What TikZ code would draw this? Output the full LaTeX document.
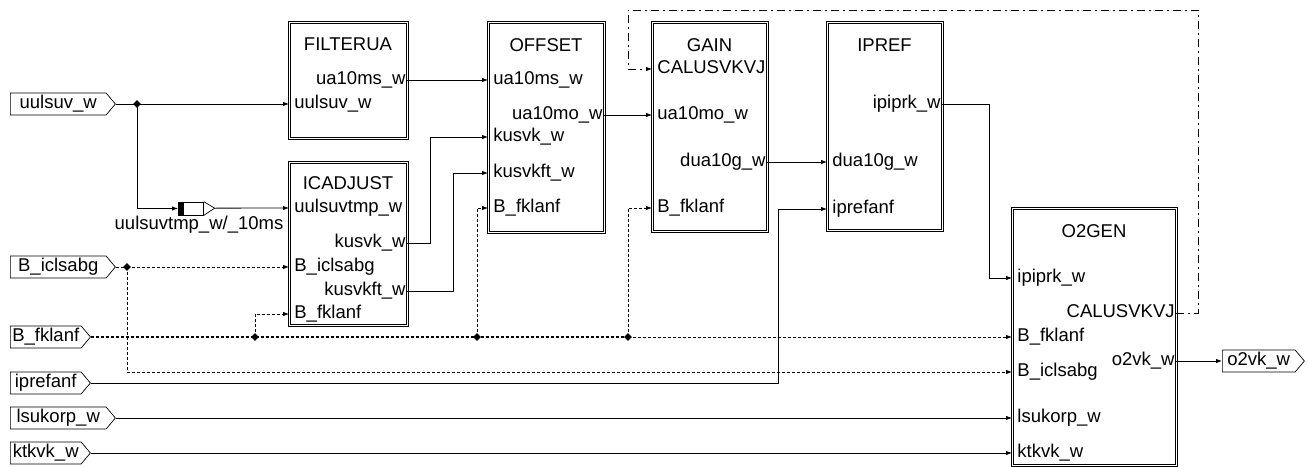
\documentclass[tikz,border=0pt]{standalone}
\usepackage{fontspec}
\setmainfont{Liberation Sans}
\usetikzlibrary{arrows.meta,shapes.symbols,shapes.geometric,calc}
\begin{document}
\begin{tikzpicture}[x=1pt,y=-1pt, font=\fontsize{18.5}{21}\selectfont, line width=0.8pt,
  block/.style={draw=black, double=white, double distance=1.6pt, line width=0.7pt, anchor=north west, inner sep=0},
  txt/.style={inner ysep=0, text height=13.2pt, text depth=3.9pt},
  portL/.style={txt, anchor=west, inner xsep=5pt},
  portR/.style={txt, anchor=east, inner xsep=1pt},
  ttl/.style={txt, anchor=center, inner xsep=0},
  sig/.style={txt, signal, signal to=east, signal pointer angle=100, draw, line width=0.7pt, anchor=west, minimum height=22pt, inner xsep=2pt},
  conn/.style={-{Latex[length=6pt,width=4.5pt]}},
  dotc/.style={conn, dash pattern=on 3pt off 2pt},
  fb/.style={conn, dash pattern=on 8pt off 4pt on 2pt off 4pt},
  jn/.style={diamond, fill=black, draw=none, inner sep=0, minimum size=8pt}]
\useasboundingbox (0,0) rectangle (1309,466);

% inputs
\node[sig, minimum width=105pt] (uulsuv) at (10,104) {uulsuv\_w};
\node[sig, minimum width=105pt] (Bicl) at (10,267) {B\_iclsabg};
\node[sig, minimum width=80pt] (Bfkl) at (10,337) {B\_fklanf};
\node[sig, minimum width=80pt] (ipref) at (10,383) {iprefanf};
\node[sig, minimum width=105pt] (lsuk) at (10,418) {lsukorp\_w};
\node[sig, minimum width=80pt] (ktkvk) at (10,453) {ktkvk\_w};
\node[sig, minimum width=82pt] (o2vk) at (1222,361) {o2vk\_w};

% blocks
\node[block, minimum width=118pt, minimum height=116pt] (FIL) at (289,22) {};
\node[block, minimum width=118pt, minimum height=163pt] (ICA) at (289,162) {};
\node[block, minimum width=116pt, minimum height=210pt] (OFF) at (488,22) {};
\node[block, minimum width=115pt, minimum height=209pt] (GAIN) at (652,22) {};
\node[block, minimum width=115pt, minimum height=208pt] (IPR) at (827,22) {};
\node[block, minimum width=164pt, minimum height=257pt] (O2G) at (1012,208) {};

% titles
\node[ttl] (FILt) at (348,46) {FILTERUA};
\node[ttl] (ICAt) at (348,185) {ICADJUST};
\node[ttl] (OFFt) at (546,47) {OFFSET};
\node[ttl] (GAINt) at (709.5,47) {GAIN};
\node[ttl] (IPRt) at (884.5,47) {IPREF};
\node[ttl] (O2Gt) at (1094,233) {O2GEN};

% ports FILTERUA
\node[portL] (FILi1) at (289,104) {uulsuv\_w};
\node[portR] (FILo1) at (407,80) {ua10ms\_w};
% ports ICADJUST
\node[portL] (ICAi1) at (289,208) {uulsuvtmp\_w};
\node[portR] (ICAo1) at (407,243) {kusvk\_w};
\node[portL] (ICAi2) at (289,267) {B\_iclsabg};
\node[portR] (ICAo2) at (407,291) {kusvkft\_w};
\node[portL] (ICAi3) at (289,314) {B\_fklanf};
% ports OFFSET
\node[portL] (OFFi1) at (488,80) {ua10ms\_w};
\node[portR] (OFFo1) at (604,115) {ua10mo\_w};
\node[portL] (OFFi2) at (488,137) {kusvk\_w};
\node[portL] (OFFi3) at (488,173) {kusvkft\_w};
\node[portL] (OFFi4) at (488,208) {B\_fklanf};
% ports GAIN
\node[portL] (GAINi1) at (652,69) {CALUSVKVJ};
\node[portL] (GAINi2) at (652,115) {ua10mo\_w};
\node[portR] (GAINo1) at (767,162) {dua10g\_w};
\node[portL] (GAINi3) at (652,208) {B\_fklanf};
% ports IPREF
\node[portR] (IPRo1) at (942,104) {ipiprk\_w};
\node[portL] (IPRi1) at (827,162) {dua10g\_w};
\node[portL] (IPRi2) at (827,209) {iprefanf};
% ports O2GEN
\node[portL] (O2Gi1) at (1012,278) {ipiprk\_w};
\node[portR] (O2Go1) at (1176,313) {CALUSVKVJ};
\node[portL] (O2Gi2) at (1012,337) {B\_fklanf};
\node[portR] (O2Go2) at (1176,361) {o2vk\_w};
\node[portL] (O2Gi3) at (1012,372) {B\_iclsabg};
\node[portL] (O2Gi4) at (1012,418) {lsukorp\_w};
\node[portL] (O2Gi5) at (1012,453) {ktkvk\_w};

% delay element
\node[draw, line width=0.7pt, minimum width=25pt, minimum height=13pt, inner sep=0, anchor=west] (dly) at (178,208.5) {};
\fill (dly.north west) rectangle ($(dly.south west)+(6,0)$);
\draw[line width=0.7pt] (dly.north east) -- ++(11,6.5) coordinate (dlyTip) -- (dly.south east);
\node[txt, inner xsep=0] (dlylab) at (199,225) {uulsuvtmp\_w/\_10ms};

% junctions
\node[jn] (J1) at (137,104) {};
\node[jn] (J2) at (127,267) {};
\node[jn] (J3) at (255,337) {};
\node[jn] (J4) at (477,337) {};
\node[jn] (J5) at (628,337) {};
\coordinate (ipc) at (778,383);
\coordinate (fbR) at (1198,10);
\coordinate (fbL) at (628,10);

% solid connectors
\draw (uulsuv.east) -- (J1.center);
\draw[conn] (J1.center) -- (FILi1.west);
\draw[conn] (J1.center) |- (dly.west);
\draw[conn] (dlyTip) -- (ICAi1.west);
\draw[conn] (FILo1.east) -- (OFFi1.west);
\draw[conn] (ICAo1.east) -- ++(23,0) |- (OFFi2.west);
\draw[conn] (ICAo2.east) -- ++(46,0) |- (OFFi3.west);
\draw[conn] (OFFo1.east) -- (GAINi2.west);
\draw[conn] (GAINo1.east) -- (IPRi1.west);
\draw[conn] (IPRo1.east) -- ++(47,0) |- (O2Gi1.west);
\draw[conn] (ipref.east) -- (ipc) |- (IPRi2.west);
\draw[conn] (lsuk.east) -- (O2Gi4.west);
\draw[conn] (ktkvk.east) -- (O2Gi5.west);
\draw[conn] (O2Go2.east) -- (o2vk.west);

% dotted connectors
\draw[dash pattern=on 3pt off 2pt] (Bicl.east) -- (J2.center);
\draw[dotc] (J2.center) -- (ICAi2.west);
\draw[dotc] (J2.center) |- (O2Gi3.west);
\draw[dash pattern=on 3pt off 2pt, line width=1.3pt] (Bfkl.east) -- (J3.center) -- (J4.center) -- (J5.center);
\draw[dotc] (J5.center) -- (O2Gi2.west);
\draw[dotc] (J3.center) |- (ICAi3.west);
\draw[dotc] (J4.center) |- (OFFi4.west);
\draw[dotc] (J5.center) |- (GAINi3.west);

% feedback
\draw[fb] (O2Go1.east) -| (fbR) -- (fbL) |- (GAINi1.west);
\end{tikzpicture}
\end{document}
